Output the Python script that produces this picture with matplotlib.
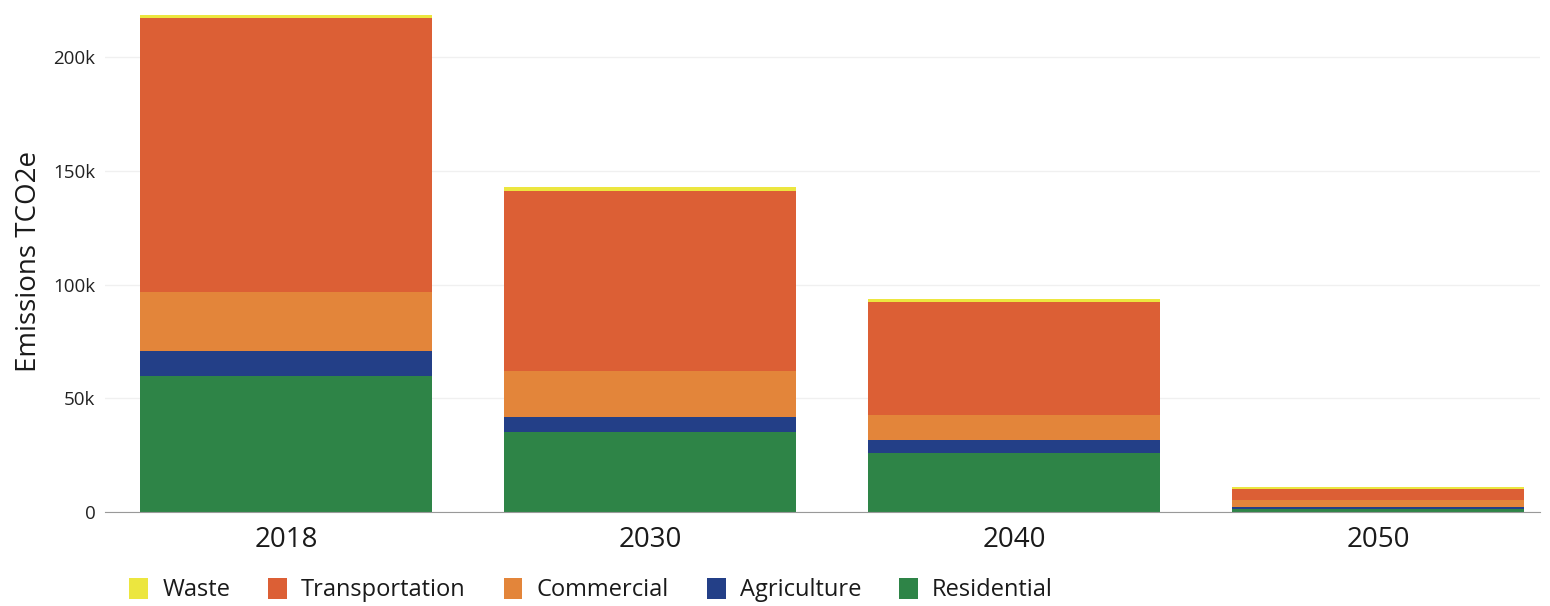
import matplotlib.pyplot as plt
from matplotlib.patches import Patch
from matplotlib.ticker import FuncFormatter

# Data (thousand tCO2e)
years = ["2018", "2030", "2040", "2050"]
residential = [59.7, 35.3, 25.9, 1.2]
agriculture = [11.1, 6.6, 5.9, 1.0]
commercial = [26.1, 20.1, 11.0, 2.9]
transportation = [120.1, 79.2, 49.4, 5.1]
waste = [1.5, 1.5, 1.5, 0.7]

sectors = ["Residential", "Agriculture", "Commercial", "Transportation", "Waste"]
series = [residential, agriculture, commercial, transportation, waste]
colors = {
    "Waste": "#ECE63F",
    "Transportation": "#DC5F35",
    "Commercial": "#E3853A",
    "Agriculture": "#233F87",
    "Residential": "#2E8447",
}

plt.rcParams['font.family'] = ['Open Sans', 'DejaVu Sans']

fig = plt.figure(figsize=(15.5, 6.06), dpi=100)
ax = fig.add_axes([105 / 1550, 94 / 606, 1435 / 1550, 500.5 / 606])

x = range(len(years))
bottom = [0] * len(years)
for name, vals in zip(sectors, series):
    v = [val * 1000 for val in vals]
    ax.bar(x, v, bottom=bottom, width=0.802, color=colors[name], zorder=3)
    bottom = [b + val for b, val in zip(bottom, v)]

ax.set_xlim(-0.497, 3.444)
ax.set_ylim(0, 220000)
ax.set_yticks([0, 50000, 100000, 150000, 200000])
ax.yaxis.set_major_formatter(FuncFormatter(lambda v, p: "0" if v == 0 else f"{int(v / 1000)}k"))
ax.set_xticks(list(x))
ax.set_xticklabels(years)

ax.tick_params(axis='y', length=0, pad=7, labelsize=13.5, labelcolor="#222222")
ax.tick_params(axis='x', length=0, pad=10, labelsize=20, labelcolor="#1a1a1a")
ax.grid(axis='y', color="#f0f0f0", linewidth=1, zorder=0)
for side in ["top", "right", "left"]:
    ax.spines[side].set_visible(False)
ax.spines["bottom"].set_color("#999999")
ax.spines["bottom"].set_zorder(4)

ax.set_ylabel("Emissions TCO2e", fontsize=20, color="#1a1a1a", labelpad=7)

legend_order = ["Waste", "Transportation", "Commercial", "Agriculture", "Residential"]
handles = [Patch(facecolor=colors[n], label=n) for n in legend_order]
fig.legend(handles=handles, loc="center left", bbox_to_anchor=(108 / 1550, 1 - 590 / 606),
           ncol=5, frameon=False, fontsize=17, handlelength=0.8, handleheight=1.0,
           handletextpad=0.6, columnspacing=1.6, labelcolor="#1a1a1a")

fig.savefig("out.png", dpi=100, facecolor="white")
